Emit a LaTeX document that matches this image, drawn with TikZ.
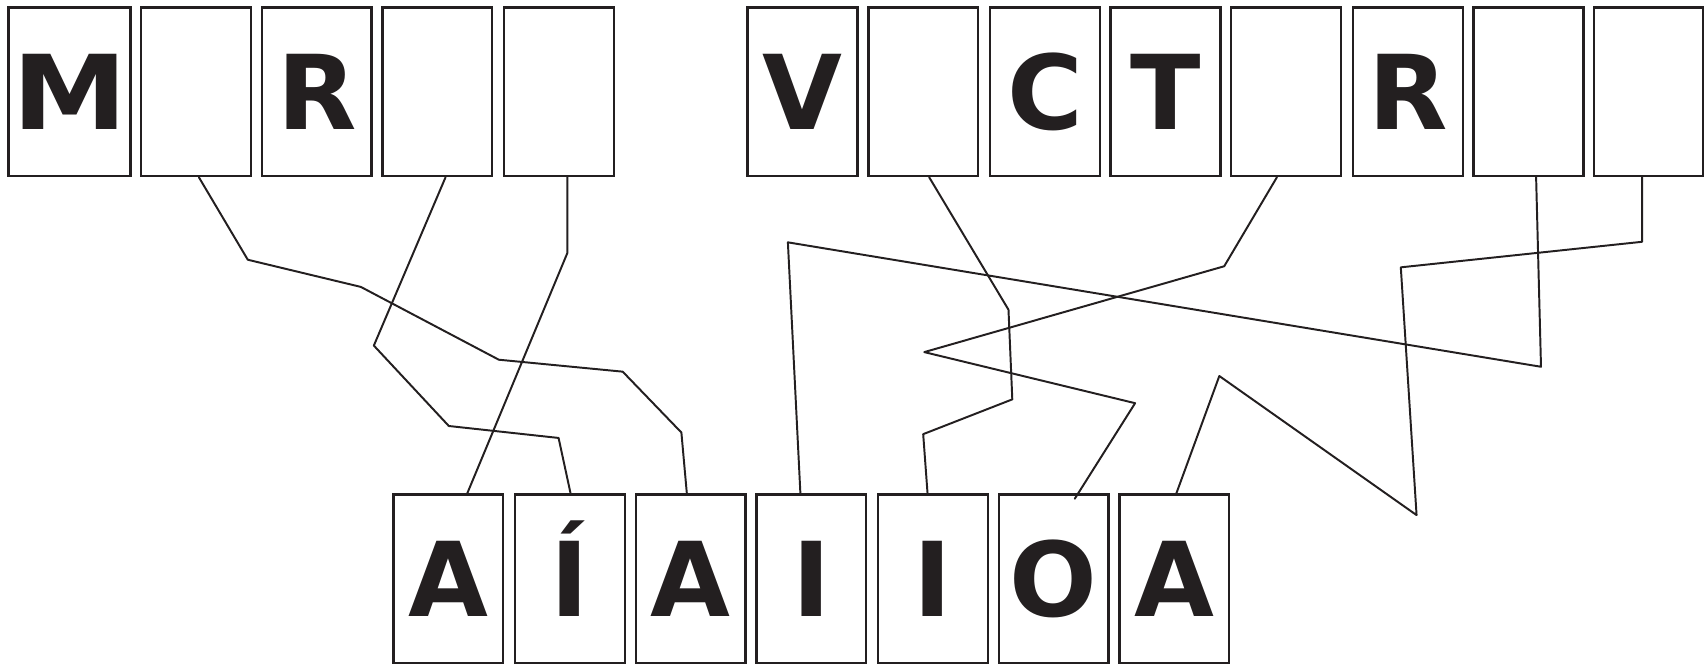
\documentclass[tikz,border=0pt]{standalone}
\usepackage{fontspec}
\newfontfamily\letterfont{DejaVu Sans}
\definecolor{ink}{HTML}{231F20}
\tikzset{
  tile/.style={draw=ink, line width=2.2pt, minimum width=101pt, minimum height=155pt,
    inner sep=0pt, text=ink, font=\letterfont\bfseries\fontsize{95}{95}\selectfont,
    text height=69pt, text depth=0pt},
  widetile/.style={tile, minimum width=112pt},
  wire/.style={draw=ink, line width=1.8pt, line join=round, line cap=round}
}
\begin{document}
\begin{tikzpicture}[x=1pt, y=-1pt]
\useasboundingbox (0,0) rectangle (1568,612);
% top row
\node[widetile] (t1)  at (64,84.5)    {\scalebox{1.12}[1]{M}};
\node[tile]     (t2)  at (180.5,84.5) {};
\node[tile]     (t3)  at (291.5,84.5) {R};
\node[tile]     (t4)  at (402.5,84.5) {};
\node[tile]     (t5)  at (514.5,84.5) {};
\node[tile]     (t6)  at (738.5,84.5) {V};
\node[tile]     (t7)  at (849.5,84.5) {};
\node[tile]     (t8)  at (961.5,84.5) {C};
\node[tile]     (t9)  at (1072.5,84.5) {T};
\node[tile]     (t10) at (1183.5,84.5) {};
\node[tile]     (t11) at (1295.5,84.5) {R};
\node[tile]     (t12) at (1406.5,84.5) {};
\node[tile]     (t13) at (1517,84.5) {};
% bottom row
\node[tile] (b1) at (412.5,532.5) {A};
\node[tile] (b2) at (524.5,532.5) {Í};
\node[tile] (b3) at (635.5,532.5) {A};
\node[tile] (b4) at (746.5,532.5) {I};
\node[tile] (b5) at (858.5,532.5) {I};
\node[tile] (b6) at (969.5,532.5) {O};
\node[tile] (b7) at (1080.5,532.5) {A};
% connectors, left group
\draw[wire] ([xshift=2.5pt]t2.south) -- (228,239) -- (332,264) -- (459,331) -- (573,342) -- (627,398) -- ([xshift=-3.5pt]b3.north);
\draw[wire] ([xshift=7.5pt]t4.south) -- (344,318) -- (413,392) -- (514,403) -- ([xshift=0.5pt]b2.north);
\draw[wire] ([xshift=7.5pt]t5.south) -- (522,233) -- ([xshift=17.5pt]b1.north);
% connectors, right group
\draw[wire] ([xshift=5.5pt]t7.south) -- (928,285) -- (931.5,367.5) -- (849.5,399.5) -- ([xshift=-5pt]b5.north);
\draw[wire] ([xshift=-8.5pt]t10.south) -- (1126.5,245) -- (850.5,324) -- (1044.5,371) -- ([xshift=19.5pt,yshift=-5pt]b6.north);
\draw[wire] ([xshift=7pt]t12.south) -- (1418,337.5) -- (725,223) -- ([xshift=-10pt]b4.north);
\draw[wire] ([xshift=-6pt]t13.south) -- (1511,222.5) -- (1289,246) -- (1303.5,474) -- (1122,346) -- ([xshift=2pt]b7.north);
\end{tikzpicture}
\end{document}
